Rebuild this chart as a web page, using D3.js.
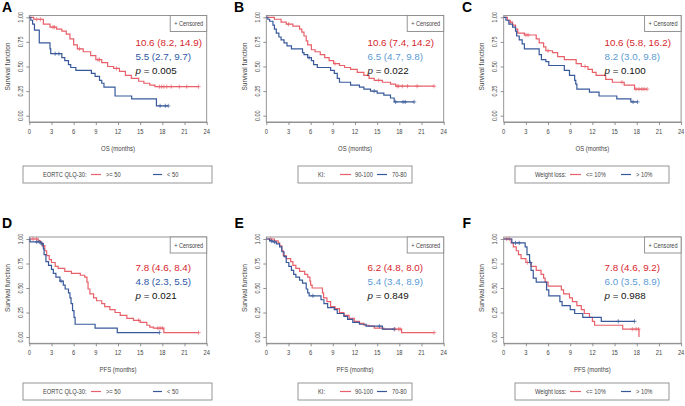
<!DOCTYPE html>
<html><head><meta charset="utf-8">
<script src="https://cdn.jsdelivr.net/npm/d3@7"></script>
<style>
html,body{margin:0;padding:0;background:#fff;}
svg{display:block;}
</style></head>
<body>
<svg id="chart" width="685" height="406"></svg>
<script>
// ---------------- DATA ----------------
const panelLetters = ["A","B","C","D","E","F"];
const xTicks = [0,3,6,9,12,15,18,21,24];
const yTicks = [0,0.25,0.5,0.75,1];
const yTickLabels = ["0.00","0.25","0.50","0.75","1.00"];
const xTitles = ["OS (months)","PFS (months)"];
const yTitle = "Survival function";
const censorLabel = "+ Censored";
const legendTitles = ["EORTC QLQ-30:","KI:","Weight loss:"];
const redGroupLabels = [">= 50","90-100","<= 10%"];
const blueGroupLabels = ["< 50","70-80","> 10%"];
const redMedianText = ["10.6 (8.2, 14.9)","10.6 (7.4, 14.2)","10.6 (5.8, 16.2)","7.8 (4.6, 8.4)","6.2 (4.8, 8.0)","7.8 (4.6, 9.2)"];
const blueMedianText = ["5.5 (2.7, 9.7)","6.5 (4.7, 9.8)","8.2 (3.0, 9.8)","4.8 (2.3, 5.5)","5.4 (3.4, 8.9)","6.0 (3.5, 8.9)"];
const pValues = ["0.005","0.022","0.100","0.021","0.849","0.988"];

// Kaplan-Meier steps [time, survival]
const aRed = [[0,1],[0.6,0.98],[1.9,0.93],[2.8,0.90],[3.7,0.88],[4.4,0.86],[5.0,0.83],[5.5,0.78],[6.0,0.72],[6.5,0.68],[7.3,0.65],[8.3,0.61],[9.0,0.57],[9.8,0.54],[10.6,0.50],[11.4,0.48],[12.2,0.45],[13.0,0.41],[13.8,0.38],[14.8,0.35],[15.5,0.33],[16.3,0.31],[17.0,0.295],[22.9,0.295]];
const aRedCens = [1.0,1.5,3.2,3.4,6.8,9.3,9.5,11.8,17.6,17.9,18.2,18.6,19.2,20.3,21.3,22.9];
const aBlue = [[0,1],[0.2,0.97],[0.45,0.93],[0.7,0.87],[1.35,0.74],[2.8,0.68],[2.9,0.63],[4.4,0.59],[4.8,0.56],[5.3,0.52],[5.6,0.49],[6.3,0.46],[8.4,0.43],[8.9,0.40],[9.5,0.36],[9.8,0.33],[10.1,0.29],[11.6,0.20],[13.85,0.17],[17.2,0.10],[18.8,0.10]];
const aBlueCens = [3.5,4.0,17.7,18.4,18.8];

const bRed = [[0,1],[1.1,0.98],[2.0,0.95],[2.7,0.93],[3.6,0.91],[4.5,0.88],[4.8,0.85],[5.1,0.81],[5.4,0.76],[5.6,0.72],[6.1,0.67],[6.6,0.65],[7.3,0.62],[7.9,0.59],[8.5,0.56],[9.1,0.53],[9.9,0.51],[10.6,0.49],[11.4,0.47],[12.3,0.44],[13.2,0.41],[13.9,0.38],[14.6,0.36],[15.7,0.34],[16.8,0.32],[17.5,0.30],[22.7,0.30]];
const bRedCens = [3.0,9.3,15.2,17.7,17.9,18.4,19.1,20.4,22.7];
const bBlue = [[0,1],[0.2,0.98],[0.45,0.96],[0.9,0.92],[1.1,0.88],[1.35,0.84],[1.7,0.80],[2.0,0.77],[2.4,0.74],[2.8,0.71],[3.4,0.68],[4.9,0.64],[5.1,0.62],[5.6,0.59],[6.1,0.56],[6.4,0.52],[6.9,0.49],[8.7,0.46],[9.2,0.43],[9.6,0.38],[9.9,0.34],[11.4,0.31],[12.6,0.29],[13.2,0.27],[14.1,0.25],[15.0,0.23],[15.9,0.21],[16.8,0.18],[17.3,0.14],[20.0,0.14]];
const bBlueCens = [5.8,14.6,17.5,18.5,18.8,20.0];

const cRed = [[0,1],[0.5,0.97],[0.85,0.95],[1.2,0.92],[1.6,0.88],[1.9,0.84],[2.8,0.82],[4.4,0.78],[4.8,0.74],[5.4,0.70],[5.7,0.66],[6.6,0.64],[7.3,0.60],[8.2,0.57],[9.8,0.53],[10.5,0.50],[11.4,0.47],[12.0,0.44],[12.5,0.41],[13.8,0.37],[14.7,0.34],[16.3,0.31],[17.7,0.27],[19.4,0.27]];
const cRedCens = [0.9,3.0,3.3,6.0,11.0,16.0,17.9,18.3,18.7,19.0,19.4];
const cBlue = [[0,1],[0.3,0.97],[0.7,0.93],[1.2,0.90],[1.6,0.86],[1.75,0.81],[2.1,0.77],[2.5,0.73],[2.8,0.68],[4.8,0.62],[5.1,0.57],[5.7,0.55],[6.1,0.51],[8.2,0.46],[8.9,0.41],[9.6,0.36],[9.75,0.32],[9.9,0.27],[11.6,0.24],[12.9,0.20],[15.3,0.17],[17.2,0.14],[18.1,0.14]];
const cBlueCens = [17.5,18.1];

const dRed = [[0,1],[1.2,0.98],[1.5,0.96],[1.8,0.93],[2.1,0.88],[2.35,0.83],[2.7,0.79],[3.0,0.76],[3.5,0.72],[3.9,0.70],[4.8,0.67],[5.7,0.65],[6.9,0.63],[7.5,0.61],[7.8,0.56],[7.95,0.49],[8.2,0.44],[8.7,0.40],[9.1,0.37],[9.8,0.34],[10.2,0.31],[10.9,0.28],[11.6,0.25],[12.3,0.22],[13.2,0.19],[14.1,0.17],[15.0,0.15],[15.9,0.12],[16.3,0.10],[16.8,0.09],[18.2,0.045],[22.9,0.045]];
const dRedCens = [0.5,1.0,1.9,14.8,17.4,17.7,18.0,22.9];
const dBlue = [[0,1],[0.1,0.97],[1.6,0.95],[1.9,0.90],[2.0,0.84],[2.25,0.77],[2.6,0.73],[3.0,0.69],[3.25,0.65],[3.6,0.61],[4.15,0.57],[4.6,0.53],[4.85,0.49],[5.3,0.45],[5.5,0.40],[5.65,0.34],[5.85,0.27],[6.05,0.20],[6.2,0.13],[8.9,0.09],[11.9,0.045],[17.6,0.045]];
const dBlueCens = [1.0,1.35,1.7,4.3,17.6];

const eRed = [[0,1],[1.1,0.98],[1.6,0.96],[1.8,0.93],[2.1,0.88],[2.3,0.83],[2.7,0.80],[3.3,0.77],[3.6,0.73],[4.0,0.70],[4.5,0.67],[5.2,0.64],[5.6,0.61],[5.9,0.57],[6.0,0.53],[6.2,0.50],[7.6,0.45],[7.75,0.40],[8.2,0.36],[8.7,0.31],[9.3,0.29],[9.9,0.25],[10.5,0.22],[11.2,0.19],[11.9,0.16],[12.6,0.14],[13.2,0.12],[13.9,0.11],[14.6,0.09],[15.9,0.08],[18.3,0.045],[22.7,0.045]];
const eRedCens = [0.6,17.4,17.9,18.1,22.7];
const eBlue = [[0,1],[0.45,0.98],[0.9,0.97],[1.35,0.95],[1.8,0.92],[2.1,0.87],[2.4,0.82],[2.7,0.76],[3.05,0.72],[3.4,0.68],[3.7,0.64],[4.0,0.61],[4.5,0.58],[4.9,0.55],[5.4,0.49],[5.6,0.45],[5.8,0.42],[7.4,0.38],[7.8,0.34],[8.3,0.30],[9.2,0.28],[9.6,0.24],[10.5,0.21],[11.0,0.18],[11.7,0.15],[12.6,0.13],[13.5,0.11],[15.7,0.08],[17.3,0.08]];
const eBlueCens = [0.7,1.1,6.3,15.3,17.3];

const fRed = [[0,1],[1.0,0.96],[1.3,0.92],[1.7,0.88],[2.0,0.84],[2.35,0.80],[3.0,0.76],[3.7,0.72],[4.4,0.68],[5.05,0.64],[5.4,0.60],[5.6,0.56],[6.0,0.52],[7.8,0.48],[8.1,0.44],[8.9,0.40],[9.3,0.36],[9.9,0.32],[10.5,0.28],[10.9,0.24],[11.6,0.20],[12.0,0.16],[12.3,0.12],[16.1,0.08],[18.3,0.0]];
const fRedCens = [0.4,0.75,3.2,17.4,17.9,18.25];
const fBlue = [[0,1],[1.1,0.96],[2.9,0.92],[3.15,0.84],[3.5,0.76],[3.7,0.68],[4.0,0.60],[4.4,0.56],[5.8,0.48],[6.1,0.42],[7.6,0.36],[7.9,0.32],[9.0,0.28],[9.6,0.24],[10.7,0.20],[13.2,0.16],[17.7,0.16]];
const fBlueCens = [1.6,2.1,3.6,15.5,17.7];

const redCurves = [aRed,bRed,cRed,dRed,eRed,fRed];
const redCensors = [aRedCens,bRedCens,cRedCens,dRedCens,eRedCens,fRedCens];
const blueCurves = [aBlue,bBlue,cBlue,dBlue,eBlue,fBlue];
const blueCensors = [aBlueCens,bBlueCens,cBlueCens,dBlueCens,eBlueCens,fBlueCens];

// ---------------- LAYOUT / STYLE ----------------
const colLeft = [29.3, 266.3, 503.7];
const plotW = 177.4;
const rowY1 = [17.3, 239];     // y of survival 1.0
const rowY0 = [115.7, 337];    // y of survival 0.0
const rowAxisY = [122, 343.3];
const rowTop = [15.5, 237];
const letterPos = [[2,11.8],[234,11.8],[462,11.8],[2,228],[234.5,228],[462.5,228]];
const annoX = [135.5, 367.5, 604.5];
const annoBase = [[46,60,73.5],[271,285,299]];
const legTop = [166, 383];
const legendBoxes = [
  {x0:23, x1:212, title:43, r0:91, r1:101, rl:106, b0:153, b1:162, bl:167},
  {x0:298, x1:412, title:318, r0:340, r1:351, rl:355, b0:377, b1:387, bl:392},
  {x0:515, x1:669, title:535, r0:570, r1:581, rl:586, b0:621, b1:631, bl:636}
];
const RED_LINE = "#e8606a", BLUE_LINE = "#37599b";
const RED_TXT = "#d7262e", DARK_BLUE_TXT = "#2c58a5", LIGHT_BLUE_TXT = "#5b9bd5";
const blueTextColor = [DARK_BLUE_TXT, LIGHT_BLUE_TXT, LIGHT_BLUE_TXT, DARK_BLUE_TXT, LIGHT_BLUE_TXT, LIGHT_BLUE_TXT];
const GRAY = "#444";
const NARROW = 0.82;
const FONT = "'Liberation Sans', Arial, sans-serif";

const svg = d3.select("#chart");

function ntext(g, x, y, str, size, anchor, rot, color){
  return g.append("text")
    .attr("transform", `translate(${x},${y})` + (rot ? ` rotate(${rot})` : "") + ` scale(${NARROW},1)`)
    .attr("text-anchor", anchor || "start")
    .attr("font-family", FONT)
    .attr("font-size", size)
    .attr("fill", color || GRAY)
    .text(str);
}

function survAt(steps, t){
  let s = steps[0][1];
  for (const p of steps){ if (p[0] <= t) s = p[1]; }
  return s;
}

for (let i = 0; i < 6; i++){
  const col = i % 3, row = Math.floor(i / 3);
  const left = colLeft[col];
  const x = d3.scaleLinear().domain([0,24]).range([left, left + plotW]);
  const y = d3.scaleLinear().domain([0,1]).range([rowY0[row], rowY1[row]]);
  const g = svg.append("g");

  // panel letter
  g.append("text").attr("x", letterPos[i][0]).attr("y", letterPos[i][1])
    .attr("font-family", FONT).attr("font-weight", "bold").attr("font-size", 14)
    .attr("fill", "#000").text(panelLetters[i]);

  // frame
  g.append("rect").attr("x", left).attr("y", rowTop[row])
    .attr("width", plotW).attr("height", rowAxisY[row] - rowTop[row])
    .attr("fill", "none").attr("stroke", "#8a8a8a").attr("stroke-width", 0.9);

  // x axis
  const xa = g.append("g").attr("transform", `translate(0,${rowAxisY[row]})`)
    .call(d3.axisBottom(x).tickValues(xTicks).tickSize(3).tickSizeOuter(0).tickFormat(d3.format("d")));
  xa.select(".domain").attr("stroke", "#8a8a8a").attr("stroke-width", 0.9);
  xa.selectAll(".tick line").attr("stroke", "#777").attr("stroke-width", 0.8);
  xa.selectAll(".tick text").remove();
  xTicks.forEach(t => ntext(g, x(t), rowAxisY[row] + 11.5, String(t), 7, "middle"));

  // y axis
  const ya = g.append("g").attr("transform", `translate(${left},0)`)
    .call(d3.axisLeft(y).tickValues(yTicks).tickSize(3).tickSizeOuter(0));
  ya.select(".domain").remove();
  ya.selectAll(".tick line").attr("stroke", "#777").attr("stroke-width", 0.8);
  ya.selectAll(".tick text").remove();
  yTicks.forEach((v, k) => ntext(g, left - 6.5, y(v), yTickLabels[k], 6.8, "middle", -90));

  // titles
  ntext(g, left - 19.5, (y(0) + y(1)) / 2, yTitle, 8, "middle", -90);
  ntext(g, left + plotW / 2, rowAxisY[row] + 28.5, xTitles[row], 7.3, "middle");

  // censored legend box
  const cbx0 = left + plotW - 36.5, cby0 = rowTop[row];
  g.append("rect").attr("x", cbx0).attr("y", cby0).attr("width", 36.5).attr("height", 16)
    .attr("fill", "#fff").attr("stroke", "#8a8a8a").attr("stroke-width", 0.9);
  ntext(g, cbx0 + 4, cby0 + 10.5, censorLabel, 6.8, "start");

  // curves
  const line = d3.line().x(d => x(d[0])).y(d => y(d[1])).curve(d3.curveStepAfter);
  const series = [
    {steps: redCurves[i], cens: redCensors[i], color: RED_LINE},
    {steps: blueCurves[i], cens: blueCensors[i], color: BLUE_LINE}
  ];
  series.forEach(s => {
    g.append("path").datum(s.steps).attr("d", line)
      .attr("fill", "none").attr("stroke", s.color).attr("stroke-width", 1.2);
    const cg = g.append("g").attr("stroke", s.color).attr("stroke-width", 0.8).attr("opacity", 0.85);
    s.cens.forEach(t => {
      const cx = x(t), cy = y(survAt(s.steps, t));
      cg.append("line").attr("x1", cx - 2.1).attr("x2", cx + 2.1).attr("y1", cy).attr("y2", cy);
      cg.append("line").attr("x1", cx).attr("x2", cx).attr("y1", cy - 2.1).attr("y2", cy + 2.1);
    });
  });

  // annotations
  const ax = annoX[col];
  const ab = annoBase[row];
  const af = "'Liberation Sans', Arial, sans-serif";
  g.append("text").attr("x", ax).attr("y", ab[0]).attr("font-family", af).attr("font-size", 9.8)
    .attr("fill", RED_TXT).text(redMedianText[i]);
  g.append("text").attr("x", ax).attr("y", ab[1]).attr("font-family", af).attr("font-size", 9.8)
    .attr("fill", blueTextColor[i]).text(blueMedianText[i]);
  const pt = g.append("text").attr("x", ax).attr("y", ab[2]).attr("font-family", af).attr("font-size", 9.8)
    .attr("fill", "#111");
  pt.append("tspan").attr("font-style", "italic").text("p");
  pt.append("tspan").text(" = " + pValues[i]);

  // bottom legend
  const lb = legendBoxes[col];
  const lt = legTop[row];
  g.append("rect").attr("x", lb.x0).attr("y", lt).attr("width", lb.x1 - lb.x0).attr("height", 17)
    .attr("fill", "#fff").attr("stroke", "#8a8a8a").attr("stroke-width", 0.9);
  ntext(g, lb.title, lt + 11, legendTitles[col], 7, "start");
  g.append("line").attr("x1", lb.r0).attr("x2", lb.r1).attr("y1", lt + 8.5).attr("y2", lt + 8.5)
    .attr("stroke", RED_LINE).attr("stroke-width", 1.2);
  ntext(g, lb.rl, lt + 11, redGroupLabels[col], 7, "start");
  g.append("line").attr("x1", lb.b0).attr("x2", lb.b1).attr("y1", lt + 8.5).attr("y2", lt + 8.5)
    .attr("stroke", BLUE_LINE).attr("stroke-width", 1.2);
  ntext(g, lb.bl, lt + 11, blueGroupLabels[col], 7, "start");
}
</script>
</body></html>
